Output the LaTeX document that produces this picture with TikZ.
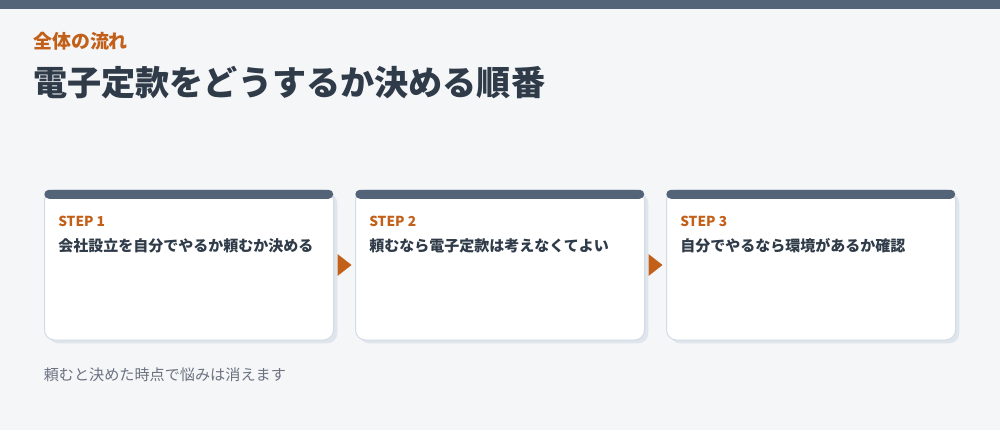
\documentclass[tikz,border=0pt]{standalone}
\usepackage{fontspec}
\usetikzlibrary{calc}
\newfontfamily\jp{Noto Sans CJK JP}
\definecolor{bgc}{HTML}{F5F6F8}
\definecolor{barc}{HTML}{536478}
\definecolor{orangec}{HTML}{C2601A}
\definecolor{darkc}{HTML}{2F3B48}
\definecolor{grayc}{HTML}{6B7280}
\definecolor{borderc}{HTML}{D3DBE4}
\definecolor{shadowc}{HTML}{DEE5ED}
\tikzset{
  card/.style={draw=borderc, line width=0.75pt, fill=white, rounded corners=7.5pt,
    minimum width=216.75pt, minimum height=112.5pt, anchor=north west, inner sep=0pt},
  cardshadow/.style={fill=shadowc, rounded corners=7.5pt,
    minimum width=216.75pt, minimum height=112.5pt, anchor=north west, inner sep=0pt},
  cardbar/.style={fill=barc, rounded corners=3.5pt, minimum width=216.75pt,
    minimum height=6.75pt, anchor=north west, inner sep=0pt},
  steplabel/.style={anchor=west, inner sep=0pt, text=orangec, font={\jp\bfseries\fontsize{10.3pt}{12pt}\selectfont}},
  steptext/.style={anchor=west, inner sep=0pt, text=darkc, font={\jp\bfseries\fontsize{11.25pt}{13pt}\selectfont}},
  flowtri/.style={fill=orangec},
}
\begin{document}
\begin{tikzpicture}[x=0.75pt,y=-0.75pt]
\fill[bgc] (0,0) rectangle (1000,430);
\useasboundingbox (0,0) rectangle (1000,430);
\fill[barc] (0,0) rectangle (1000,9);
\node[anchor=west, inner sep=0pt, text=orangec, font={\jp\bfseries\fontsize{14.2pt}{16pt}\selectfont}] (kicker) at (33,41.5) {全体の流れ};
\node[anchor=west, inner sep=0pt, text=darkc, font={\jp\bfseries\fontsize{25.6pt}{28pt}\selectfont}] (title) at (33,83) {電子定款をどうするか決める順番};
% cards
\foreach \i/\x in {1/44, 2/355, 3/666} {
  \node[cardshadow] (s\i) at (\x+4,193) {};
  \node[card] (c\i) at (\x,189.5) {};
  \node[cardbar] (b\i) at (\x,189.5) {};
}
\node[steplabel] (l1) at (58,221.7) {STEP 1};
\node[steptext] (t1) at (58,246) {会社設立を自分でやるか頼むか決める};
\node[steplabel] (l2) at (369,221.7) {STEP 2};
\node[steptext] (t2) at (369,246) {頼むなら電子定款は考えなくてよい};
\node[steplabel] (l3) at (680,221.7) {STEP 3};
\node[steptext] (t3) at (680,246) {自分でやるなら環境があるか確認};
% arrows
\foreach \a/\b in {1/2, 2/3} {
  \coordinate (m\a) at ($(c\a.east)!0.5!(c\b.west)$);
  \fill[flowtri] ($(m\a)+(-7,-11)$) -- ($(m\a)+(7,0)$) -- ($(m\a)+(-7,11)$) -- cycle;
}
\node[anchor=west, inner sep=0pt, text=grayc, font={\jp\fontsize{11.35pt}{13pt}\selectfont}] (foot) at (43.5,375) {頼むと決めた時点で悩みは消えます};
\end{tikzpicture}
\end{document}
